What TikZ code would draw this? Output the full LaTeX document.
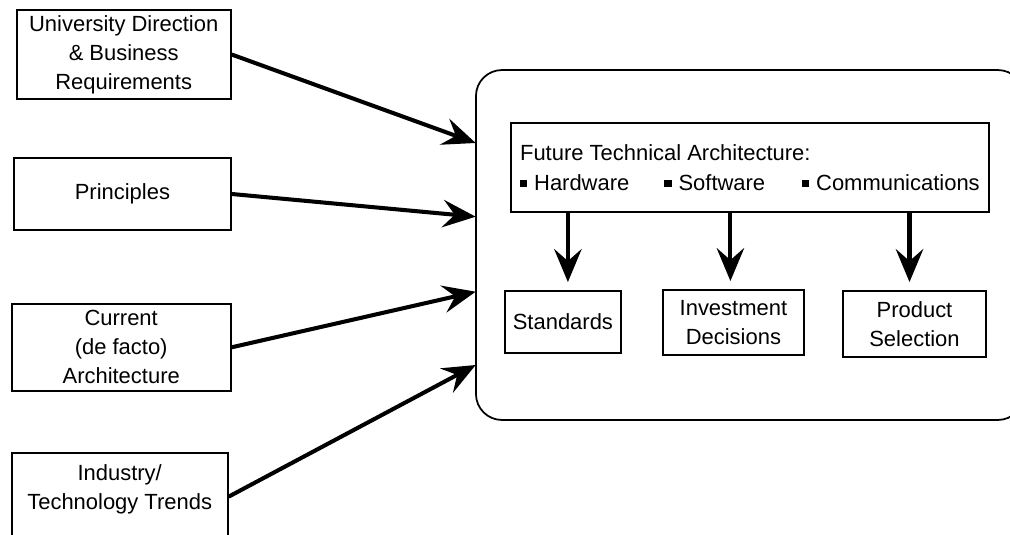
\documentclass[tikz,border=0pt]{standalone}
\usepackage{fontspec}
\setmainfont{Liberation Sans}
\usetikzlibrary{positioning, arrows.meta}

\newcommand{\sqbul}{\rule[2pt]{4pt}{4pt}\hspace{4pt}}

\begin{document}
\begin{tikzpicture}[x=0.02cm, y=-0.02cm,
    srcbox/.style={draw, line width=1.1pt, align=center, inner sep=2pt,
      font=\fontsize{12.5}{16.5}\selectfont},
    corebox/.style={draw, line width=1pt, rounded corners=0.52cm},
    flow/.style={line width=2.3pt, -{Stealth[length=0.66cm, width=0.55cm, inset=0.24cm]}}]

  \useasboundingbox (0,0) rectangle (1010,534);

    % Input boxes on the left
    \node[srcbox, minimum width=4.28cm, minimum height=1.78cm] (req) at (123.7,54.5) {University Direction\\\& Business\\Requirements};
    \node[srcbox, minimum width=4.34cm, minimum height=1.44cm] (prin) at (122.4,194) {Principles};
    \node[srcbox, minimum width=4.38cm, minimum height=1.73cm] (curr) at (121.2,347.3) {Current\\(de facto)\\Architecture};
    \node[srcbox, minimum width=4.32cm, minimum height=1.76cm, anchor=north] (trend) at (119.7,451.7) {Industry/\\Technology Trends\\[-6pt]\mbox{}};

    % Rounded frame on the right
    \node[corebox, minimum width=10.96cm, minimum height=7cm] (core) at (749.9,245) {};
    \node[srcbox, align=left, minimum width=9.56cm, minimum height=1.78cm,
      font=\fontsize{12.5}{17}\selectfont] (fta) at (749.9,167.3)
      {Future Technical Architecture:\\\sqbul Hardware\hspace{20pt}\sqbul Software\hspace{21pt}\sqbul Communications};

    % Outcome boxes
    \node[srcbox, minimum width=2.31cm, minimum height=1.24cm] (std) at (562.9,322) {Standards};
    \node[srcbox, minimum width=2.83cm, minimum height=1.3cm] (inv) at (733.4,322.5) {Investment\\Decisions};
    \node[srcbox, minimum width=2.86cm, minimum height=1.32cm] (prod) at (914.5,324) {Product\\Selection};

    % Where the inputs meet the frame
    \coordinate (t1) at (475.7,143);
    \coordinate (t2) at (475.7,216.7);
    \coordinate (t3) at (475.7,291.7);
    \coordinate (t4) at (475.7,365);

    \foreach \src/\tip in {req/t1, prin/t2, curr/t3, trend/t4} {
      \draw[flow] (\src.east) -- (\tip);
    }

    % Down arrows to the outcomes
    \foreach \out/\dx in {std/5, inv/-3, prod/-5} {
      \draw[flow, shorten >=0.16cm] ([xshift=\dx*0.02cm]fta.south -| \out.north) -- ([xshift=\dx*0.02cm]\out.north);
    }

\end{tikzpicture}
\end{document}
